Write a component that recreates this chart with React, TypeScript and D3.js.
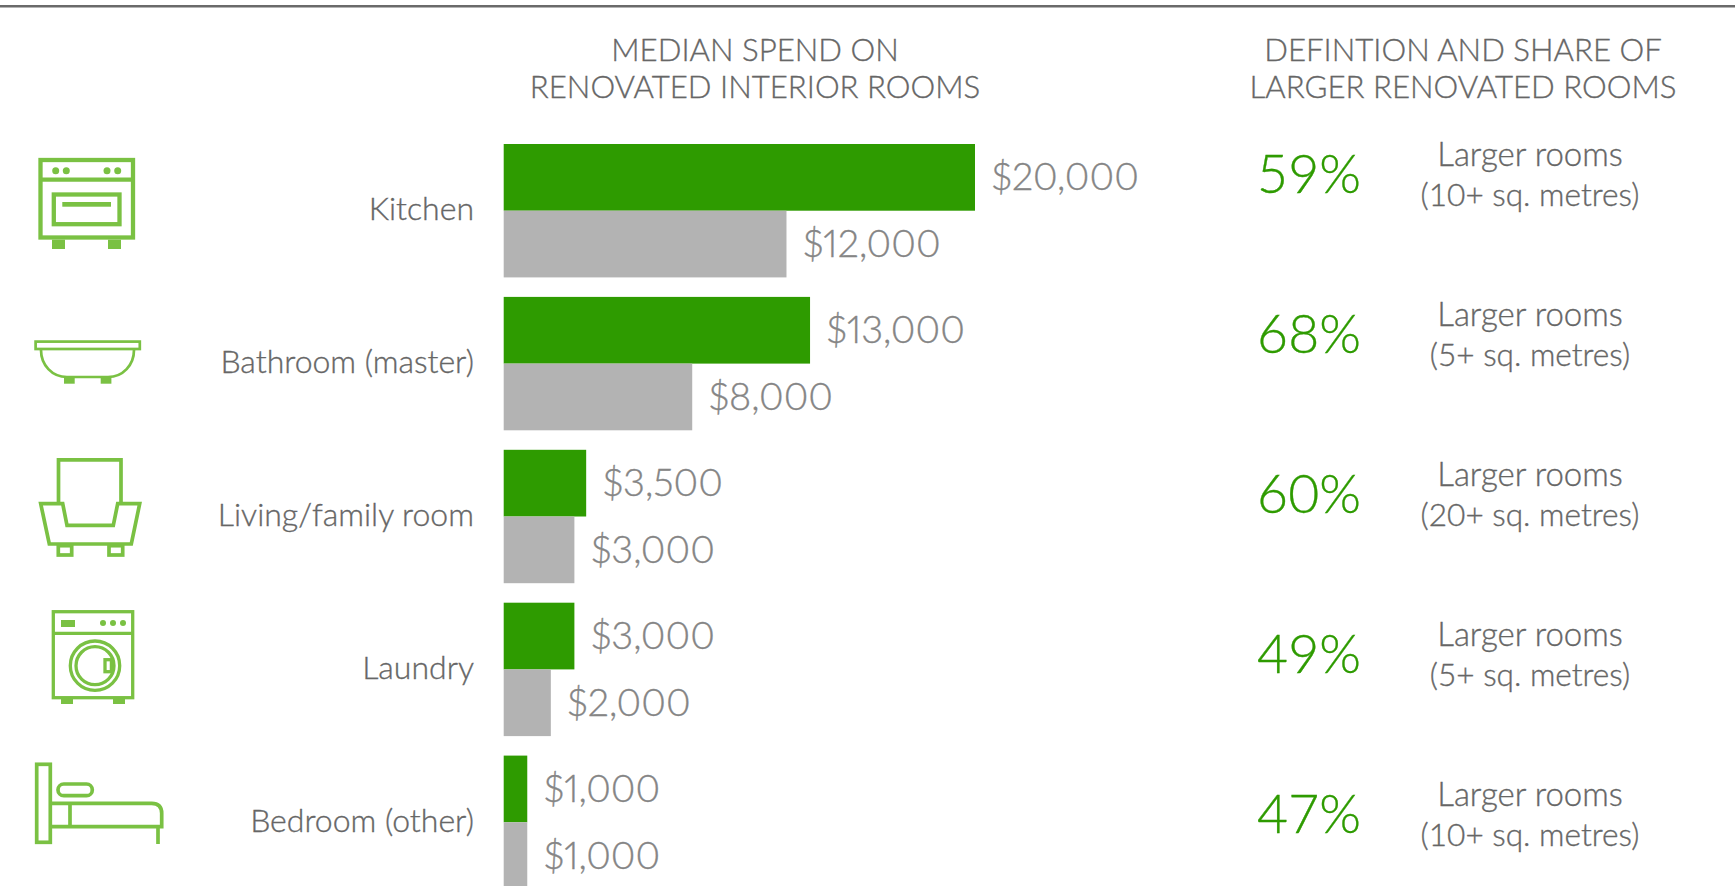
import React from "react";
import * as d3 from "d3";

const rooms = ["Kitchen", "Bathroom (master)", "Living/family room", "Laundry", "Bedroom (other)"];
const largerValues = [20000, 13000, 3500, 3000, 1000];
const otherValues = [12000, 8000, 3000, 2000, 1000];
const largerLabels = ["$20,000", "$13,000", "$3,500", "$3,000", "$1,000"];
const otherLabels = ["$12,000", "$8,000", "$3,000", "$2,000", "$1,000"];
const shares = ["59%", "68%", "60%", "49%", "47%"];
const definitions = ["(10+ sq. metres)", "(5+ sq. metres)", "(20+ sq. metres)", "(5+ sq. metres)", "(10+ sq. metres)"];
const headerLeft = ["MEDIAN SPEND ON", "RENOVATED INTERIOR ROOMS"];
const headerRight = ["DEFINTION AND SHARE OF", "LARGER RENOVATED ROOMS"];

const GREEN = "#2e9b00";
const GREY = "#b3b3b3";
const ICON = "#7ac143";
const FONT = "Lato, sans-serif";

const x = d3.scaleLinear().domain([0, 20000]).range([503.7, 975]);
const y = d3.scaleBand<number>().domain(d3.range(rooms.length)).range([144, 889]).paddingInner(0.1275).paddingOuter(0).align(0);
const yRight = d3.scalePoint<number>().domain(d3.range(rooms.length)).range([144, 784.4]);

function Icons() {
  const s = { fill: "none", stroke: ICON };
  return (
    <g>
      <g {...s} strokeWidth={4.3}>
        <rect x={40.5} y={160} width={92.5} height={77.5} />
        <line x1={40} x2={133} y1={179.7} y2={179.7} />
        <rect x={53.8} y={194.5} width={65.7} height={29.7} />
        <g fill={ICON} stroke="none">
          {[55.7, 66.3, 107, 117.7].map((c) => <circle key={c} cx={c} cy={170.7} r={3.5} />)}
          <rect x={62.3} y={202} width={48.7} height={4.7} />
          <rect x={52} y={239.7} width={13} height={9.3} />
          <rect x={108} y={239.7} width={13} height={9.3} />
        </g>
      </g>
      <g {...s} strokeWidth={2.7}>
        <rect x={35.6} y={341.6} width={104.2} height={7.4} />
        <path d="M41 350C41 365 52 377 67 377L108 377C123 377 134 365 134 350" />
        <g fill={ICON} stroke="none">
          <rect x={64} y={377} width={10.7} height={6.7} />
          <rect x={100.7} y={377} width={10.7} height={6.7} />
        </g>
      </g>
      <g {...s} strokeWidth={3.7}>
        <path d="M58.5 503.5V459.8H121V503.5" />
        <path d="M40.7 503.7H62.7L67 525.3H113.3L117.7 503.7H139.7L131.3 544H49.3Z" />
        <rect x={58.3} y={545.7} width={13.4} height={9.3} />
        <rect x={109} y={545.7} width={13.7} height={9.3} />
      </g>
      <g {...s} strokeWidth={3.3}>
        <rect x={53.3} y={611.7} width={79.4} height={86} />
        <line x1={52} x2={134} y1={633.3} y2={633.3} />
        <circle cx={95} cy={665.7} r={24.7} />
        <circle cx={95} cy={665.7} r={19} />
        <rect x={105} y={659.7} width={6.4} height={12} fill="#fff" />
        <g fill={ICON} stroke="none">
          <rect x={61} y={620} width={14} height={7} />
          {[103, 113, 123].map((c) => <circle key={c} cx={c} cy={623} r={3} />)}
          <rect x={61} y={699} width={12} height={5} />
          <rect x={113} y={699} width={12} height={5} />
        </g>
      </g>
      <g {...s} strokeWidth={3.7}>
        <rect x={36.7} y={764.3} width={13.6} height={78} />
        <rect x={58} y={784} width={34.3} height={11.7} rx={5.8} />
        <path d="M50.3 803.3H151.7Q161.7 803.3 161.7 813.3V826.7H50.3" />
        <line x1={70} x2={70} y1={803.3} y2={826.7} />
        <line x1={158} x2={158} y1={826.7} y2={844} />
      </g>
    </g>
  );
}

export default function App() {
  const h = y.bandwidth() / 2;
  const dark = { fill: "#666", stroke: "#666", strokeWidth: 0.35 };
  const mid = { fill: "#858585", stroke: "#858585", strokeWidth: 0.35, style: { fontVariantNumeric: "proportional-nums" } };
  return (
    <svg width={1735} height={886} style={{ position: "absolute", left: 0, top: 0, background: "#fff" }} fontFamily={FONT}>
      <rect x={0} y={5} width={1735} height={2.5} fill="#6a6a6a" />
      <g {...dark} fontSize={31.2} fontWeight={300} textAnchor="middle">
        {headerLeft.map((t, i) => <text key={t} x={755} y={61 + i * 36.5}>{t}</text>)}
        {headerRight.map((t, i) => <text key={t} x={1463} y={61 + i * 36.5}>{t}</text>)}
      </g>
      <Icons />
      {rooms.map((r, i) => {
        const top = y(i)!;
        const rt = yRight(i)!;
        return (
          <g key={r}>
            <rect x={x(0)} y={top} width={x(largerValues[i]) - x(0)} height={h} fill={GREEN} />
            <rect x={x(0)} y={top + h} width={x(otherValues[i]) - x(0)} height={h} fill={GREY} />
            <text x={474} y={top + h + 9.5} textAnchor="end" fontSize={32} fontWeight={300} {...dark}>{r}</text>
            <text x={x(largerValues[i]) + 16.5} y={top + h / 2 + 13} fontSize={38} fontWeight={300} {...mid}>{largerLabels[i]}</text>
            <text x={x(otherValues[i]) + 16.5} y={top + h * 1.5 + 13} fontSize={38} fontWeight={300} {...mid}>{otherLabels[i]}</text>
            <text x={1309} y={rt + 49} textAnchor="middle" fontSize={53.5} fontWeight={300} fill={GREEN} stroke={GREEN} strokeWidth={0.35}>{shares[i]}</text>
            <text x={1530} y={rt + 22} textAnchor="middle" fontSize={33} fontWeight={300} {...dark}>Larger rooms</text>
            <text x={1530} y={rt + 62} textAnchor="middle" fontSize={31.6} fontWeight={300} {...dark}>{definitions[i]}</text>
          </g>
        );
      })}
    </svg>
  );
}
